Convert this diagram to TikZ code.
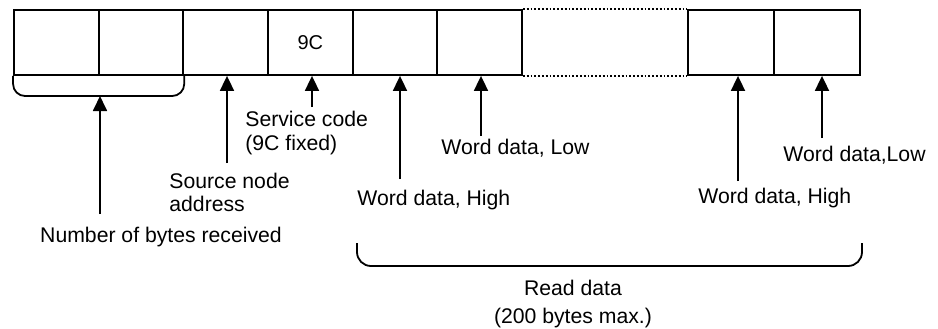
\documentclass[tikz,border=0pt]{standalone}
\usepackage{fontspec}
\setmainfont{Liberation Sans}
\usepackage{tikz}
\usetikzlibrary{arrows.meta}

\begin{document}
\begin{tikzpicture}[x=0.5pt, y=-0.5pt]
    \tikzstyle{cell} += [draw=black, line width=0.9pt, rectangle, inner sep=0pt,
                         minimum width=42.33pt, minimum height=32.5pt];
    \tikzstyle{lbl} += [inner sep=0pt, align=left,
                        font=\fontsize{10.6}{11.6}\selectfont];
    \tikzstyle{arr} += [line width=0.9pt, -{Triangle[width=7pt, length=7.5pt]}];
    \useasboundingbox (0,0) rectangle (938,328);

    % the frame
    \node (b1) at ( 56.3, 42.5) [cell]{};
    \node (b2) at (141.0, 42.5) [cell]{};
    \node (b3) at (225.7, 42.5) [cell]{};
    \node (b4) at (310.3, 42.5) [cell]{9C};
    \node (b5) at (395.0, 42.5) [cell]{};
    \node (b6) at (479.7, 42.5) [cell]{};
    \node (b7) at (731.0, 42.5) [cell, minimum width=43pt]{};
    \node (b8) at (817.0, 42.5) [cell, minimum width=43pt]{};
    \draw[line width=0.9pt, densely dotted] (b6.north east) -- (b7.north west);
    \draw[line width=0.9pt, densely dotted] (b6.south east) -- (b7.south west);

    % texts
    \node (nbytes) at (161, 237) [lbl]{Number of bytes received};
    \node (src)    at (169, 192.5) [lbl, anchor=west]{Source node\\address};
    \node (svc)    at (245, 133) [lbl, anchor=west]{Service code\\(9C fixed)};
    \node (high1)  at (357, 200) [lbl, anchor=west]{Word data, High};
    \node (low1)   at (441, 148) [lbl, anchor=west]{Word data, Low};
    \node (high2)  at (698, 198) [lbl, anchor=west]{Word data, High};
    \node (low2)   at (783, 155) [lbl, anchor=west]{Word data,Low};
    \node (rdata)  at (573, 304) [lbl, align=center]{Read data\\[2.5pt](200 bytes max.)};

    % arrow tails
    \coordinate (t1) at (100, 214);
    \coordinate (t2) at (227, 163);
    \coordinate (t3) at (312, 107);
    \coordinate (t4) at (400, 179);
    \coordinate (t5) at (481, 136);
    \coordinate (t6) at (738, 181);
    \coordinate (t7) at (822, 138);
    \coordinate (brk1) at (0, 96);
    \coordinate (brk2) at (0, 266);
    \coordinate (rl) at (357, 243);
    \coordinate (rr) at (862, 243);

    \begin{scope}[line width=0.9pt]
      \draw[rounded corners=6pt] (b1.south west) -- (b1.south west |- brk1)
           -- (b2.south east |- brk1) -- (b2.south east);
      \draw[rounded corners=7pt] (rl) -- (rl |- brk2) -- (rr |- brk2) -- (rr);
    \end{scope}

    \draw[arr] (t1) -- (t1 |- brk1);
    \draw[arr] (t2) -- (t2 |- b3.south);
    \draw[arr] (t3) -- (t3 |- b4.south);
    \draw[arr] (t4) -- (t4 |- b5.south);
    \draw[arr] (t5) -- (t5 |- b6.south);
    \draw[arr] (t6) -- (t6 |- b7.south);
    \draw[arr] (t7) -- (t7 |- b8.south);
\end{tikzpicture}
\end{document}
